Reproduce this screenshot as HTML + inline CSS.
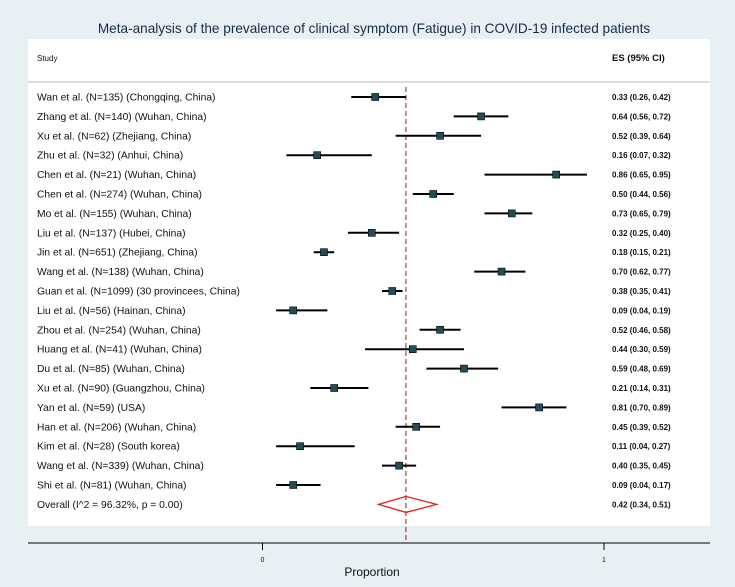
<!DOCTYPE html>
<html><head><meta charset="utf-8"><style>
body{margin:0;background:#e9f0f3;}
svg{display:block;font-family:"Liberation Sans",Arial,sans-serif;}
</style></head><body>
<svg id="c" width="735" height="587">
<rect x="0" y="0" width="735" height="587" fill="#e9f0f3"/>
<rect x="28" y="39" width="682" height="487" fill="#ffffff"/>
<text x="374" y="33" text-anchor="middle" font-size="13.6" fill="#1a2a4a">Meta-analysis of the prevalence of clinical symptom (Fatigue) in COVID-19 infected patients</text>
<text x="37" y="61" font-size="8" fill="#111">Study</text>
<text x="612" y="61" font-size="9.5" font-weight="bold" fill="#111">ES (95% CI)</text>
<line x1="28" y1="82" x2="710" y2="82" stroke="#bbb" stroke-width="1"/>
<line x1="28" y1="543" x2="710" y2="543" stroke="#000" stroke-width="1"/>
<text x="372" y="576" text-anchor="middle" font-size="12" fill="#111">Proportion</text>
<g id="g"></g>
</svg>
<script>
const studies=["Wan et al. (N=135) (Chongqing, China)","Zhang et al. (N=140) (Wuhan, China)","Xu et al. (N=62) (Zhejiang, China)","Zhu et al. (N=32) (Anhui, China)","Chen et al. (N=21) (Wuhan, China)","Chen et al. (N=274) (Wuhan, China)","Mo et al. (N=155) (Wuhan, China)","Liu et al. (N=137) (Hubei, China)","Jin et al. (N=651) (Zhejiang, China)","Wang et al. (N=138) (Wuhan, China)","Guan et al. (N=1099) (30 provincees, China)","Liu et al. (N=56) (Hainan, China)","Zhou et al. (N=254) (Wuhan, China)","Huang et al. (N=41) (Wuhan, China)","Du et al. (N=85) (Wuhan, China)","Xu et al. (N=90) (Guangzhou, China)","Yan et al. (N=59) (USA)","Han et al. (N=206) (Wuhan, China)","Kim et al. (N=28) (South korea)","Wang et al. (N=339) (Wuhan, China)","Shi et al. (N=81) (Wuhan, China)"];
const es=[0.33,0.64,0.52,0.16,0.86,0.50,0.73,0.32,0.18,0.70,0.38,0.09,0.52,0.44,0.59,0.21,0.81,0.45,0.11,0.40,0.09];
const lo=[0.26,0.56,0.39,0.07,0.65,0.44,0.65,0.25,0.15,0.62,0.35,0.04,0.46,0.30,0.48,0.14,0.70,0.39,0.04,0.35,0.04];
const hi=[0.42,0.72,0.64,0.32,0.95,0.56,0.79,0.40,0.21,0.77,0.41,0.19,0.58,0.59,0.69,0.31,0.89,0.52,0.27,0.45,0.17];
const overall=[0.42,0.34,0.51];
const ticks=[0,1];
const NS="http://www.w3.org/2000/svg",g=document.getElementById('g');
const X=v=>262.5+341.5*v, Y=i=>97+19.4*i;
const f=v=>v.toFixed(2);
function el(t,a,txt){const e=document.createElementNS(NS,t);for(const k in a)e.setAttribute(k,a[k]);if(txt!==undefined)e.textContent=txt;g.appendChild(e);return e;}
const oy=Y(studies.length);
const d=el('line',{x1:X(overall[0]),x2:X(overall[0]),y1:87,y2:543,stroke:'#a01010','stroke-width':1,'stroke-dasharray':'5,3'});


studies.forEach((s,i)=>{
 const y=Y(i);
 const t=el('text',{x:37,y:y+3.5,'font-size':10.3,fill:'#111'},s);
 
 
 const l=el('line',{x1:X(lo[i]),x2:X(hi[i]),y1:y,y2:y,stroke:'#000','stroke-width':2});
 
 
 const r=el('rect',{x:X(es[i])-3.5,y:y-3.5,width:7,height:7,fill:'#1f4e5a',stroke:'#000','stroke-width':0.6});
 
 
 const e=el('text',{x:612,y:y+3,'font-size':8,'font-weight':'bold',fill:'#111'},f(es[i])+' ('+f(lo[i])+', '+f(hi[i])+')');
 
 
});
const ot=el('text',{x:37,y:oy+3.5,'font-size':10.3,fill:'#111'},'Overall  (I^2 = 96.32%, p = 0.00)');


const dm=el('polygon',{points:`${X(overall[1])},${oy} ${X(overall[0])},${oy-8} ${X(overall[2])},${oy} ${X(overall[0])},${oy+8}`,fill:'none',stroke:'#e02020','stroke-width':1.3});


const oe=el('text',{x:612,y:oy+3,'font-size':8,'font-weight':'bold',fill:'#111'},f(overall[0])+' ('+f(overall[1])+', '+f(overall[2])+')');


ticks.forEach(v=>{
 const tk=el('line',{x1:X(v),x2:X(v),y1:543,y2:550,stroke:'#000','stroke-width':1});
 
 
 const tl=el('text',{x:X(v),y:562,'text-anchor':'middle','font-size':7,fill:'#111'},String(v));
 
 
});
</script>
</body></html>
